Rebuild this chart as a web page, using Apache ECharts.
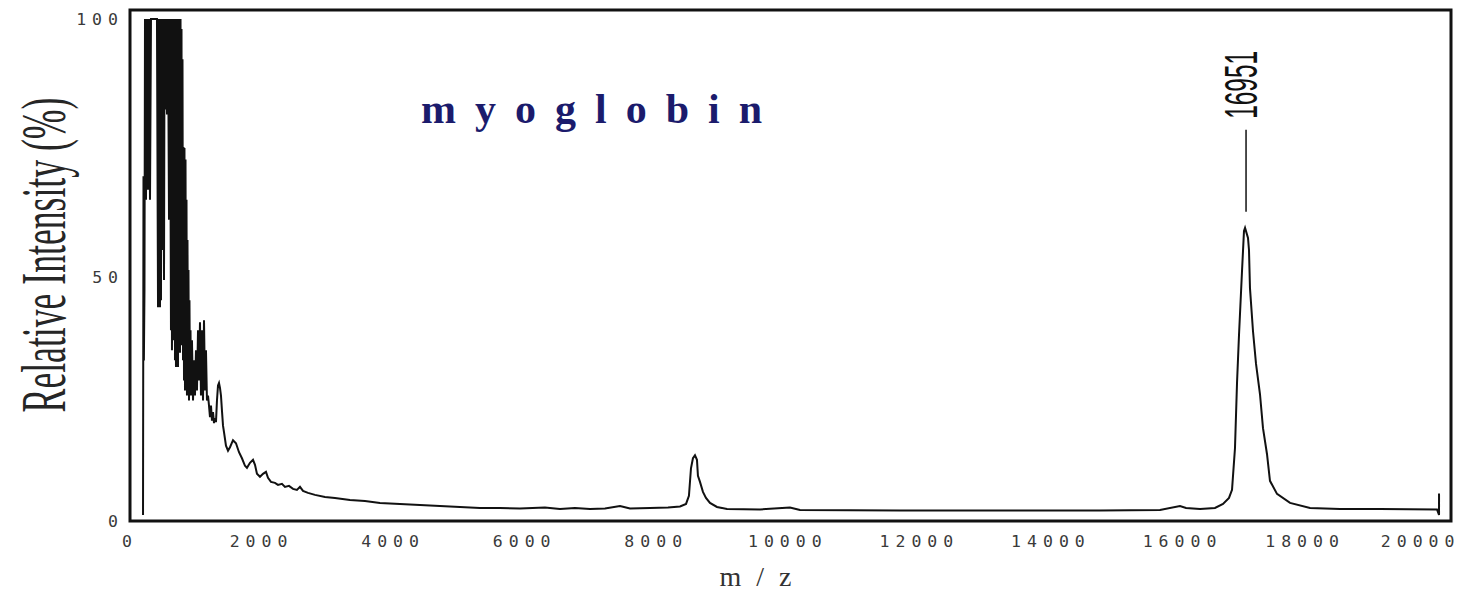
<!DOCTYPE html>
<html>
<head>
<meta charset="utf-8">
<title>myoglobin</title>
<style>
  html, body { margin: 0; padding: 0; background: #ffffff; }
  #chart { width: 1465px; height: 592px; }
  /* widely spaced lettering used by the tick labels and the headings */
  #chart text[style*="DejaVu Sans Mono"] { letter-spacing: 6px; }
  #chart text[style*="42px"] { letter-spacing: 19px; }
  #chart text[style*="28px"] { letter-spacing: 15px; }
</style>
<script src="https://cdn.jsdelivr.net/npm/echarts@6/dist/echarts.min.js"></script>
</head>
<body>
<div id="chart"></div>
<script>
// MALDI spectrum of myoglobin: m/z against relative intensity (%)
const mz = [
  198, 205, 211, 220, 228, 243, 258, 274, 289, 304, 319, 410,
  426, 433, 441, 448, 456, 464, 471, 479, 486, 494, 502, 509, 517, 525,
  532, 547, 562, 578, 593, 608, 623, 631, 638, 646, 654, 661, 669, 676,
  684, 692, 699, 707, 714, 722, 730, 737, 745, 752, 760, 768, 775, 783,
  790, 798, 806, 813, 821, 828, 836, 844, 851, 859, 866, 874, 882, 889,
  897, 904, 912, 920, 927, 942, 958, 973, 988, 1003, 1018, 1034, 1049,
  1064, 1079, 1094, 1110, 1125, 1140, 1155, 1170, 1186, 1201, 1216, 1231,
  1246, 1262, 1277, 1292, 1307, 1322, 1338, 1353, 1368, 1383, 1398, 1414,
  1429, 1459, 1490, 1520, 1566, 1611, 1657, 1702, 1748, 1778, 1824, 1870,
  1900, 1930, 1976, 2022, 2067, 2098, 2143, 2204, 2250, 2310, 2356, 2417,
  2478, 2538, 2584, 2630, 2706, 2812, 2964, 3116, 3344, 3572, 3800, 4104,
  4408, 4712, 5016, 5320, 5624, 5928, 6308, 6536, 6764, 6993, 7221, 7449,
  7601, 7905, 8179, 8362, 8453, 8497, 8528, 8558, 8589, 8619, 8634, 8665,
  8710, 8756, 8817, 8923, 9076, 9578, 10033, 10185, 11706, 13226, 14746,
  15658, 15962, 16054, 16267, 16494, 16616, 16707, 16753, 16798, 16829,
  16859, 16905, 16935, 16951, 16996, 17011, 17026, 17072, 17118, 17178,
  17224, 17285, 17330, 17437, 17635, 17939, 18395, 19003, 19869, 19900, 19900
];
const intensity = [
  1.2, 68.7, 32, 46, 100, 64, 100, 66, 100, 64, 100, 100,
  42.6, 100, 46, 100, 42.6, 100, 44, 100, 54, 100, 60, 100, 48, 100,
  82, 100, 81, 100, 60, 100, 38, 100, 34, 100, 44, 100, 36, 100,
  32, 100, 30.7, 96, 31, 100, 30.7, 100, 34, 100, 33.5, 100, 36, 98,
  35, 92, 32, 74.5, 28, 74.3, 26, 72, 29, 64, 25, 56, 27, 50,
  24, 44, 26, 38, 25, 36, 24, 32, 25, 34, 26, 38, 28,
  39.6, 25, 38, 24, 40, 26, 34, 24, 25, 23, 20.7, 23,
  20, 21.7, 19.5, 20.5, 19.7, 24, 27, 27.5, 26.5, 25, 22, 19,
  17.7, 15, 14, 14.7, 16.1, 15.5, 13.7, 12.5, 11, 10.6, 11.6, 12.2,
  11.2, 9.4, 8.8, 9.4, 9.8, 8.6, 7.8, 7.6, 7.2, 7.4, 6.8, 7,
  6.4, 6.2, 6.8, 6, 5.6, 5.2, 4.8, 4.6, 4.2, 4, 3.6, 3.4,
  3.2, 3, 2.8, 2.6, 2.6, 2.5, 2.7, 2.4, 2.6, 2.4, 2.5, 3.0,
  2.5, 2.6, 2.7, 2.9, 3.4, 5, 10.5, 12.5, 13.1, 12.2, 9, 7.8,
  5.8, 4.6, 3.6, 2.8, 2.4, 2.3, 2.7, 2.2, 2.1, 2.1, 2.1,
  2.2, 3.0, 2.6, 2.4, 2.6, 3.4, 4.6, 6.2, 14.5, 27.5,
  37, 49.8, 57.8, 58.4, 56.4, 54, 46.4, 37.8, 31.3, 25.3,
  18.5, 13.3, 8, 5.4, 3.6, 2.6, 2.4, 2.4, 2.3, 1.2, 5.5
];
const xTicks = [0, 2000, 4000, 6000, 8000, 10000, 12000, 14000, 16000, 18000, 20000];
const yTicks = [0, 50, 100];
const sampleName = 'myoglobin';
const xTitle = 'm/z';
const yTitle = 'Relative Intensity (%)';
const peakMz = 16951;
const peakIntensity = 58.4;
const peakText = '16951';

const spectrum = mz.map((m, i) => [m, intensity[i]]);

const chart = echarts.init(document.getElementById('chart'), null, { renderer: 'svg' });

const tickFont = { fontFamily: 'DejaVu Sans Mono', fontSize: 16.5, color: '#3a3a3a' };

chart.setOption({
  animation: false,
  backgroundColor: '#ffffff',
  grid: {
    left: 130, right: 14, top: 10, bottom: 71,
    show: true, borderColor: '#111111', borderWidth: 3, backgroundColor: 'transparent'
  },
  xAxis: {
    type: 'value', min: 0, max: 20082, interval: 2000,
    axisLine: { show: false }, axisTick: { show: false }, splitLine: { show: false },
    axisLabel: Object.assign({}, tickFont, {
      margin: 12,
      formatter: v => {
        if (!xTicks.includes(v)) return '';
        if (v === 20000) return '{e|' + v + '}';
        if (v === 18000) return '{d|' + v + '}';
        return String(v);
      },
      rich: {
        e: Object.assign({}, tickFont, { padding: [0, 50, 0, 0] }),
        d: Object.assign({}, tickFont, { padding: [0, 18, 0, 0] })
      }
    })
  },
  yAxis: {
    type: 'value', min: 0, max: 101.8, interval: 50,
    axisLine: { show: false }, axisTick: { show: false }, splitLine: { show: false },
    axisLabel: Object.assign({}, tickFont, {
      margin: 6,
      formatter: v => {
        if (!yTicks.includes(v)) return '';
        return v === 50 ? '{m|' + v + '}' : String(v);
      },
      rich: { m: Object.assign({}, tickFont, { padding: [14, 0, 0, 0] }) }
    })
  },
  series: [{
    type: 'line',
    data: spectrum,
    showSymbol: false,
    symbol: 'none',
    clip: true,
    lineStyle: { color: '#111111', width: 2, join: 'miter' },
    z: 3
  }]
});

// annotations: sample name, axis titles and the labelled molecular-ion peak
const tip = chart.convertToPixel({ gridIndex: 0 }, [peakMz, peakIntensity]);

chart.setOption({
  graphic: [
    {
      type: 'text', x: 421, y: 109,
      style: {
        text: sampleName, fontFamily: 'Liberation Serif', fontWeight: 'bold', fontSize: 42,
        fill: '#1b1b6c', align: 'left', verticalAlign: 'middle'
      }
    },
    {
      type: 'text', x: 763, y: 576,
      style: {
        text: xTitle, fontFamily: 'Liberation Serif', fontSize: 28,
        fill: '#333333', align: 'center', verticalAlign: 'middle'
      }
    },
    {
      type: 'text', x: 43, y: 255, rotation: Math.PI / 2, scaleX: 0.557, scaleY: 1,
      style: {
        text: yTitle, fontFamily: 'Liberation Serif', fontSize: 64,
        fill: '#262626', align: 'center', verticalAlign: 'middle'
      }
    },
    {
      type: 'line',
      shape: { x1: tip[0] + 1, y1: tip[1] - 16, x2: tip[0] + 1, y2: tip[1] - 98 },
      style: { stroke: '#111111', lineWidth: 1.5 }
    },
    {
      type: 'text', x: tip[0] - 4.5, y: tip[1] - 143, rotation: Math.PI / 2, scaleX: 0.52, scaleY: 1,
      style: {
        text: peakText, fontFamily: 'Liberation Sans', fontSize: 47,
        fill: '#111111', align: 'center', verticalAlign: 'middle'
      }
    }
  ]
});
</script>
</body>
</html>
